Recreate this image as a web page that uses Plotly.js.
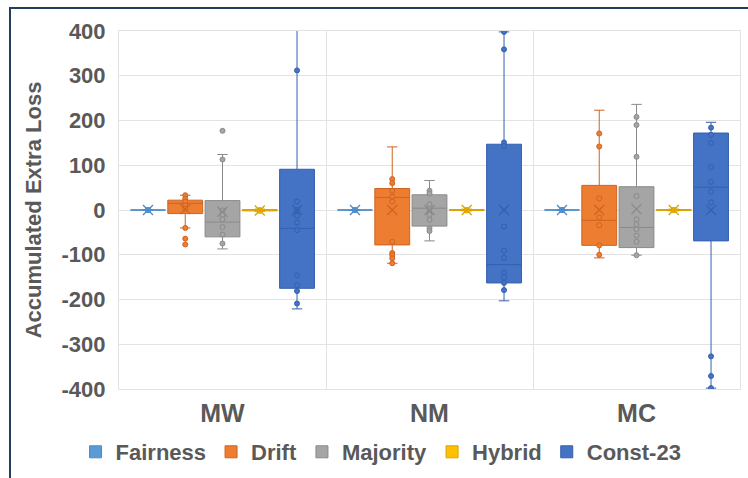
<!DOCTYPE html>
<html>
<head>
<meta charset="utf-8">
<script src="https://cdn.plot.ly/plotly-3.0.1.min.js"></script>
<style>
  html, body { margin: 0; padding: 0; background: #ffffff; }
  #wrap { position: relative; width: 748px; height: 478px; overflow: hidden; }
  #chart { position: absolute; left: 0; top: 0; width: 748px; height: 478px; }
  #frame { position: absolute; left: 9px; top: 7px; width: 760px; height: 490px;
           border-top: 2px solid #243F5E; border-left: 2px solid #243F5E; pointer-events: none; }
</style>
</head>
<body>
<div id="wrap">
  <div id="chart"></div>
  <div id="frame"></div>
</div>
<script>
// ---- data ----
const categories = ['MW', 'NM', 'MC'];
const seriesNames = ['Fairness', 'Drift', 'Majority', 'Hybrid', 'Const-23'];
const yTickValues = [-400, -300, -200, -100, 0, 100, 200, 300, 400];
const yTickLabels = ['-400', '-300', '-200', '-100', '0', '100', '200', '300', '400'];

// Fairness
const fairnessQ1 = [0, 0, 0];
const fairnessMedian = [0, 0, 0];
const fairnessQ3 = [0, 0, 0];
const fairnessLow = [0, 0, 0];
const fairnessHigh = [0, 0, 0];
const fairnessMean = [0, 0, 0];
const fairnessPoints = [[0, 0], [0, 0], [0, 0]];

// Drift
const driftQ1 = [-8, -78, -79];
const driftMedian = [15, 28, -23];
const driftQ3 = [22, 48, 55];
const driftLow = [-40, -119, -107];
const driftHigh = [33, 141, 223];
const driftMean = [2, 0, 0];
const driftPoints = [
  [33, 25, 19, 10, 3, -40, -64, -77],
  [69, 60, 43, 30, 19, -71, -96, -101, -108, -119],
  [171, 142, 26, -17, -34, -79, -100]
];

// Majority
const majorityQ1 = [-60, -36, -84];
const majorityMedian = [-27, 4, -39];
const majorityQ3 = [21, 34, 52];
const majorityLow = [-87, -69, -101];
const majorityHigh = [124, 66, 236];
const majorityMean = [-4, 0, 2];
const majorityPoints = [
  [177, 113, -1, -11, -21, -38, -55, -75],
  [43, 37, 13, 2, -11, -22, -41, -47],
  [208, 190, 119, 31, -21, -32, -43, -57, -71, -101]
];

// Hybrid
const hybridQ1 = [-2, -1, -1];
const hybridMedian = [0, 0, 0];
const hybridQ3 = [1, 1, 1];
const hybridLow = [-3, -2, -2];
const hybridHigh = [2, 2, 2];
const hybridMean = [-1, 0, 0];
const hybridPoints = [[0, -2], [0, -1], [0, 0]];

// Const-23
const constQ1 = [-175, -163, -69];
const constMedian = [-41, -122, 51];
const constQ3 = [91, 147, 172];
const constLow = [-221, -203, -398];
const constHigh = [430, 398, 196];
const constMean = [0, 0, 0];
const constPoints = [
  [312, 19, 0, -13, -28, -45, -146, -168, -181, -209],
  [398, 359, 151, 143, -37, -91, -107, -140, -151, -163, -179],
  [184, 168, 150, 96, 63, 41, 17, -327, -371, -398]
];

// ---- styling ----
const fillColors = ['#5B9BD5', '#ED7D31', '#A5A5A5', '#FFC000', '#4472C4'];
const lineColors = ['#4A89C8', '#CF6421', '#8A8A8A', '#D9A300', '#3460AE'];

const stats = [
  [fairnessQ1, fairnessMedian, fairnessQ3, fairnessLow, fairnessHigh, fairnessMean, fairnessPoints],
  [driftQ1, driftMedian, driftQ3, driftLow, driftHigh, driftMean, driftPoints],
  [majorityQ1, majorityMedian, majorityQ3, majorityLow, majorityHigh, majorityMean, majorityPoints],
  [hybridQ1, hybridMedian, hybridQ3, hybridLow, hybridHigh, hybridMean, hybridPoints],
  [constQ1, constMedian, constQ3, constLow, constHigh, constMean, constPoints]
];

const FONT = 'Liberation Sans, Arial, Helvetica, sans-serif';
const TEXT = '#595959';

const boxes = [];
const pointTraces = [];
const meanTraces = [];
seriesNames.forEach((name, i) => {
  const [q1, med, q3, lo, hi, mean, pts] = stats[i];
  boxes.push({
    type: 'box',
    name: name,
    x: categories,
    q1: q1, median: med, q3: q3,
    lowerfence: lo, upperfence: hi,
    boxpoints: false,
    fillcolor: fillColors[i],
    line: { color: lineColors[i], width: 1 },
    whiskerwidth: 0.3,
    offsetgroup: name,
    hoverinfo: 'skip'
  });
  const px = [], py = [];
  pts.forEach((arr, c) => arr.forEach(v => { px.push(categories[c]); py.push(v); }));
  pointTraces.push({
    type: 'scatter', mode: 'markers', name: name + ' points',
    x: px, y: py, offsetgroup: name, showlegend: false, hoverinfo: 'skip', cliponaxis: true,
    marker: { symbol: 'circle', size: 5, color: fillColors[i], line: { color: lineColors[i], width: 1 } }
  });
  meanTraces.push({
    type: 'scatter', mode: 'markers', name: name + ' mean',
    x: categories, y: mean, offsetgroup: name, showlegend: false, hoverinfo: 'skip',
    marker: { symbol: 'x-thin-open', size: 10, color: lineColors[i], line: { color: lineColors[i], width: 1.3 } }
  });
});

const layout = {
  width: 748, height: 478,
  paper_bgcolor: '#ffffff', plot_bgcolor: '#ffffff',
  margin: { l: 119, r: 8, t: 31, b: 89, autoexpand: false },
  boxmode: 'group', boxgap: 0.1, boxgroupgap: 0.065,
  scattermode: 'group', scattergap: 0.1,
  showlegend: true,
  legend: {
    orientation: 'h', x: 0.422, xanchor: 'center', y: -0.176, yanchor: 'middle',
    font: { family: FONT, size: 22, color: TEXT, weight: 'bold' },
    traceorder: 'normal', itemwidth: 30
  },
  xaxis: {
    type: 'category', categoryorder: 'array', categoryarray: categories,
    automargin: false,
    tickson: 'boundaries', showgrid: true, gridcolor: '#E3E3E3', gridwidth: 1,
    showline: true, linecolor: '#E3E3E3', mirror: true, ticks: '',
    tickfont: { family: FONT, size: 25, color: TEXT, weight: 'bold' },
    ticklabelstandoff: 2
  },
  yaxis: {
    range: [-400, 400], tickvals: yTickValues, ticktext: yTickLabels,
    automargin: false,
    showgrid: true, gridcolor: '#E3E3E3', gridwidth: 1, zeroline: false,
    showline: true, linecolor: '#E3E3E3', mirror: true, ticks: '',
    tickfont: { family: FONT, size: 22, color: TEXT, weight: 'bold' },
    ticklabelstandoff: 8,
    title: { text: 'Accumulated Extra Loss', standoff: 13,
             font: { family: FONT, size: 22, color: TEXT, weight: 'bold' } }
  }
};

Plotly.newPlot('chart', boxes.concat(pointTraces, meanTraces), layout, { staticPlot: true, displayModeBar: false });
</script>
</body>
</html>
